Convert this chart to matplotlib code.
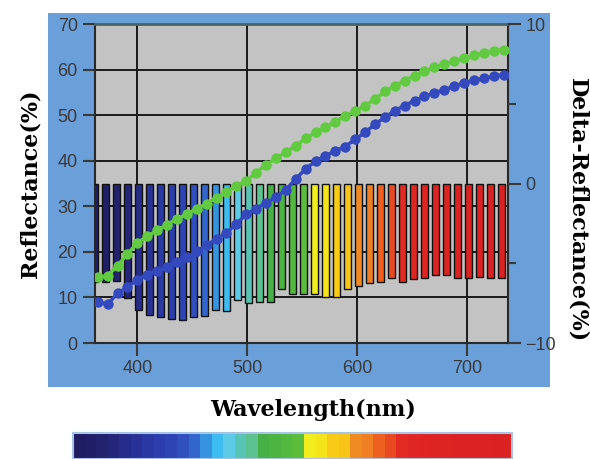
import numpy as np
import matplotlib.pyplot as plt
from matplotlib.colors import ListedColormap

# spectral sampling of the difference bars (nm) and their depth (delta %)
bar_nm = np.arange(361, 740, 10)
bar_delta = [-6.2, -6.2, -6.1, -7.2, -7.9, -8.25, -8.4, -8.5, -8.55, -8.4,
             -8.3, -7.9, -8.0, -7.3, -7.5, -7.4, -7.4, -6.6, -6.9, -6.9,
             -6.9, -7.1, -7.1, -6.6, -6.4, -6.25, -6.15, -5.95, -6.15, -6.0,
             -5.95, -5.75, -5.75, -5.95, -5.95, -5.85, -5.9, -5.95]
bar_colors = ['#1f1c62', '#201e66', '#22226e', '#24267a', '#262c8c', '#283296',
              '#2a38a4', '#2c3eae', '#2e44b4', '#3050c0', '#3266cc', '#3494e0',
              '#3cbcf0', '#5ccbe6', '#58c4b4', '#5cc290', '#46b046', '#4cb440',
              '#52b840', '#5cbc3c', '#f2ee1e', '#f6e41a', '#f8cc16', '#f8c418',
              '#f08a22', '#f07e22', '#ee6020', '#ea4a22', '#e22a22', '#e02622',
              '#e02422', '#de2422', '#de2422', '#dc2222', '#dc2222', '#dc2222',
              '#da2222', '#da2222']

# reflectance spectra
curve_nm = np.arange(364, 737, 9)
refl_green = [14.5, 14.7, 17.0, 19.5, 22.0, 23.4, 24.7, 26.0, 27.2, 28.3,
              29.5, 30.6, 31.9, 33.2, 34.5, 35.6, 37.4, 39.1, 40.5, 41.9,
              43.3, 44.9, 46.2, 47.4, 48.6, 49.8, 50.9, 52.1, 53.5, 55.2,
              56.4, 57.6, 58.7, 59.6, 60.5, 61.2, 61.9, 62.5, 63.2, 63.7,
              64.1, 64.4]
refl_blue = [9.0, 8.5, 10.9, 12.3, 13.9, 15.0, 15.9, 16.6, 17.8, 18.8,
             20.1, 21.5, 22.9, 24.1, 26.2, 28.2, 29.5, 30.8, 32.0, 33.6,
             36.0, 38.2, 39.9, 41.1, 42.2, 43.1, 44.7, 46.2, 48.0, 49.5,
             51.0, 52.1, 53.2, 54.1, 54.9, 55.6, 56.3, 57.1, 57.7, 58.1,
             58.5, 58.9]

x_ticks = [400, 500, 600, 700]
left_ticks = [0, 10, 20, 30, 40, 50, 60, 70]
right_ticks = [-10, 0, 10]

tick_col = '#3a3a3a'
tick_family = ['Liberation Sans Narrow', 'Liberation Sans', 'DejaVu Sans']
label_font = dict(family='DejaVu Serif', fontweight='bold', fontsize=16)

fig = plt.figure(figsize=(5.9, 4.59), dpi=100)
fig.patch.set_facecolor('white')

# blue frame behind the chart
bg = fig.add_axes([0.0814, 0.157, 0.851, 0.815], zorder=-5)
bg.set_facecolor('#6b9fd9')
bg.set_xticks([])
bg.set_yticks([])
for s in bg.spines.values():
    s.set_visible(False)

ax = fig.add_axes([0.161, 0.2527, 0.700, 0.695])
ax.set_facecolor('#c3c3c3')
ax.set_xlim(361.5, 737)
ax.set_ylim(0, 70)
ax.set_xticks(x_ticks)
ax.set_yticks(left_ticks)
ax.grid(True, color='#1a1a1a', lw=1.4)
ax.set_axisbelow(True)
ax.tick_params(axis='both', colors=tick_col, labelsize=13, width=1.5,
               length=9, labelcolor=tick_col)
for s in ['left', 'bottom', 'right']:
    ax.spines[s].set_color('#2a2a2a')
    ax.spines[s].set_linewidth(1.5)
ax.spines['top'].set_color('#4a6464')
ax.spines['top'].set_linewidth(2)

# difference bars on the right axis
ax2 = ax.twinx()
ax2.set_ylim(-10, 10)
ax2.bar(bar_nm, bar_delta, width=6.2, color=bar_colors,
        edgecolor='#111111', linewidth=1.0, zorder=2)
ax2.set_yticks(right_ticks)
ax2.set_yticks([-5, 5], minor=True)
ax2.tick_params(axis='y', which='major', colors=tick_col, labelsize=13,
                width=1.5, length=9, labelcolor=tick_col)
ax2.tick_params(axis='y', which='minor', colors=tick_col, width=1.5, length=6)
for s in ax2.spines.values():
    s.set_visible(False)

for lab in ax.get_xticklabels() + ax.get_yticklabels() + ax2.get_yticklabels():
    lab.set_family(tick_family)

# reflectance curves on top
ax3 = ax.twinx()
ax3.set_ylim(ax.get_ylim())
ax3.axis('off')
ax3.plot(curve_nm, refl_green, color='#62ca40', lw=2.5, marker='o',
         markersize=7.5, markeredgewidth=0, zorder=3)
ax3.plot(curve_nm, refl_blue, color='#3449bd', lw=2.5, marker='o',
         markersize=7.5, markeredgewidth=0, zorder=3)

fig.text(0.052, 0.600, 'Reflectance(%)', rotation=90, ha='center',
         va='center', **label_font)
fig.text(0.978, 0.542, 'Delta-Reflectance(%)', rotation=270, ha='center',
         va='center', **label_font)
fig.text(0.530, 0.107, 'Wavelength(nm)', ha='center', va='center',
         **label_font)

# spectrum strip along the bottom
cax = fig.add_axes([0.1237, 0.0, 0.744, 0.0566])
cax.imshow(np.arange(len(bar_colors))[None, :], aspect='auto',
           cmap=ListedColormap(bar_colors), interpolation='nearest')
cax.set_xticks([])
cax.set_yticks([])
for s in cax.spines.values():
    s.set_color('#a8c4e4')
    s.set_linewidth(1.5)

fig.savefig('out.png', dpi=100)
